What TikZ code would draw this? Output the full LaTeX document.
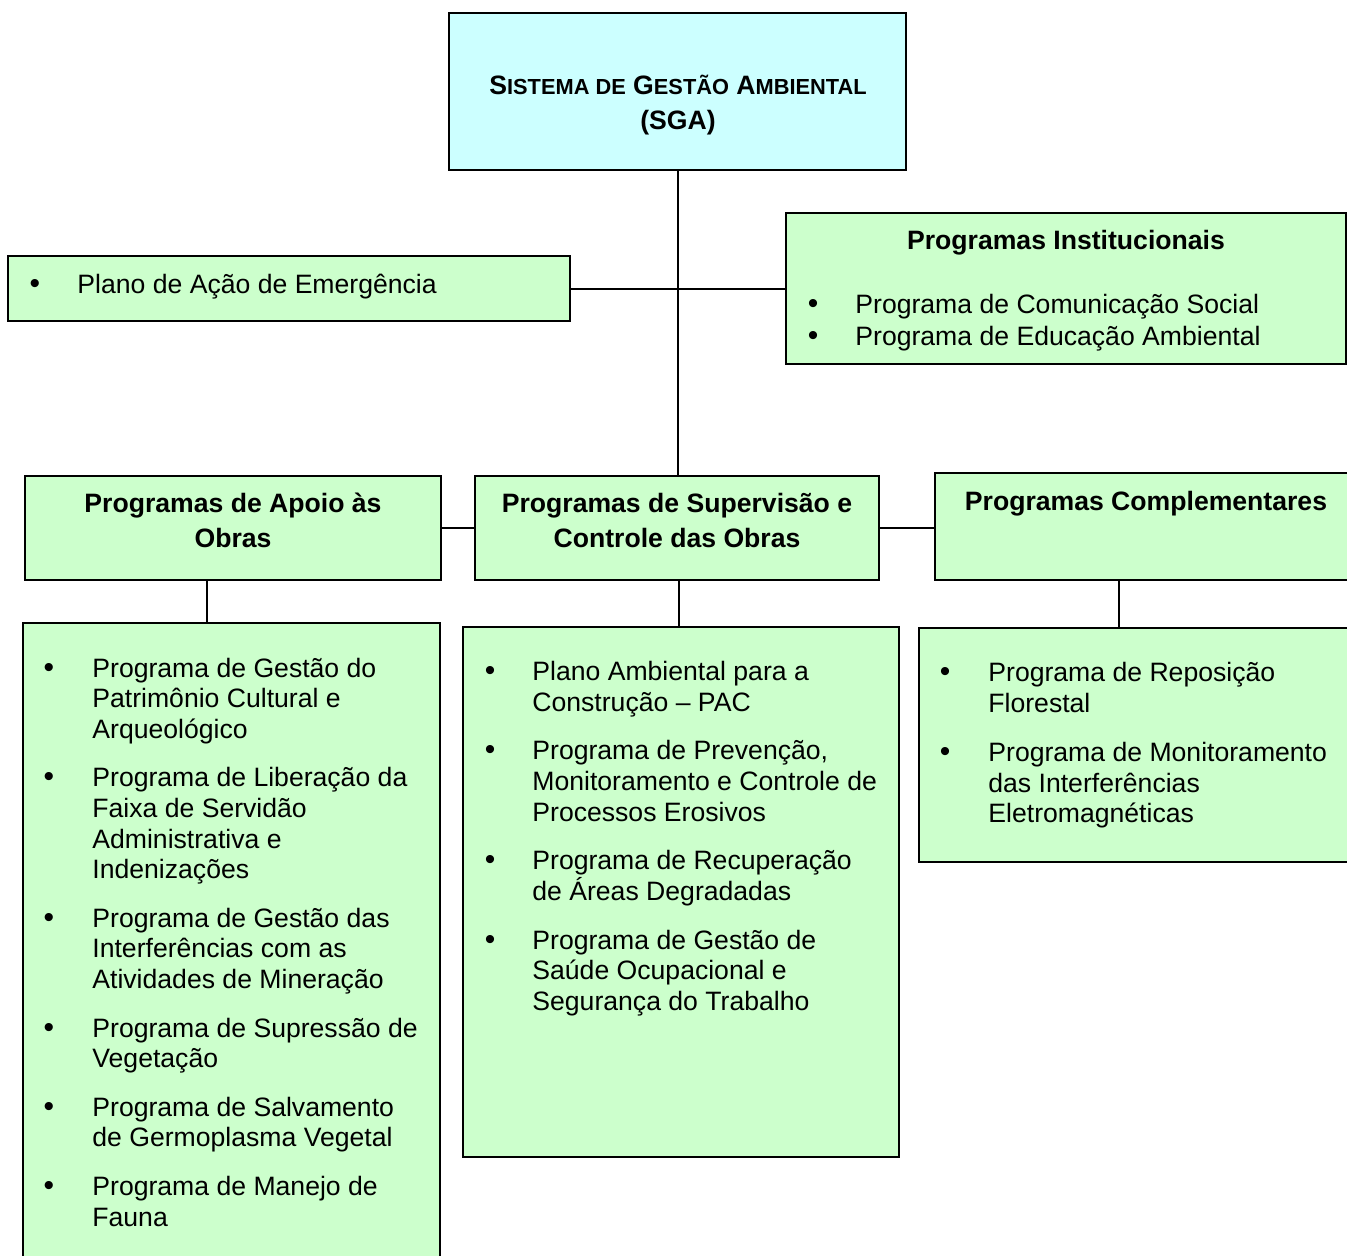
\documentclass[tikz,border=0pt]{standalone}
\usepackage{fontspec}
\setmainfont{Liberation Sans}
\usetikzlibrary{fit}
\definecolor{boxgreen}{HTML}{CCFFCC}
\definecolor{boxcyan}{HTML}{CCFFFF}
% reduced capitals for the title of the top box
\newcommand{\lowcaps}[1]{{\fontsize{10.9pt}{12pt}\selectfont #1}}

\begin{document}
\begin{tikzpicture}[x=0.5pt,y=-0.5pt,
  panel/.style={draw=black, line width=0.9pt, inner sep=0pt, fill=boxgreen},
  link/.style={draw=black, line width=1pt},
  txt/.style={anchor=base west, inner sep=0pt, font=\fontsize{13.3pt}{15.3pt}\selectfont},
  ttl/.style={anchor=base, inner sep=0pt, font=\fontsize{13.3pt}{15.3pt}\selectfont\bfseries},
  dot/.style={anchor=base, inner sep=0pt, font=\fontsize{15pt}{15.3pt}\selectfont}
]
\useasboundingbox (0,0) rectangle (1347,1255);
\begin{scope}
\clip (0,0) rectangle (1347,1255);

% boxes
\node[panel, fill=boxcyan, fit={(449,13) (906,170)}] (sga) {};
\node[panel, fit={(8,256) (570,321)}] (plano) {};
\node[panel, fit={(786,213) (1346,364)}] (inst) {};
\node[panel, fit={(25,476) (441,580)}] (apoio) {};
\node[panel, fit={(475,476) (879,580)}] (sup) {};
\node[panel, fit={(935,473) (1365,580)}] (comp) {};
\node[panel, fit={(23,623) (440,1280)}] (lapoio) {};
\node[panel, fit={(463,627) (899,1157)}] (lsup) {};
\node[panel, fit={(919,628) (1365,862)}] (lcomp) {};

% connectors
\draw[link] (sga.south) -- (sga.south |- sup.north);
\draw[link] (plano.east) -- (plano.east -| inst.west);
\draw[link] (apoio.east) -- (apoio.east -| sup.west);
\draw[link] (sup.east) -- (sup.east -| comp.west);
\draw[link] (207,0 |- apoio.south) -- (207,0 |- lapoio.north);
\draw[link] (679,0 |- sup.south) -- (679,0 |- lsup.north);
\draw[link] (1119,0 |- comp.south) -- (1119,0 |- lcomp.north);

% top box title
\node[ttl] (sga1) at (678,94) {S\lowcaps{ISTEMA DE} G\lowcaps{ESTÃO} A\lowcaps{MBIENTAL}};
\node[ttl] (sga2) at (678,129) {(SGA)};

% emergency plan
\node[dot] (pb) at (35,293) {•};
\node[txt] (pt) at (77,293) {Plano de Ação de Emergência};

% institutional programmes
\node[ttl] (it) at (1066,249) {Programas Institucionais};
\node[dot] (ib1) at (813,313) {•};
\node[txt] (i1) at (855,313) {Programa de Comunicação Social};
\node[dot] (ib2) at (813,345) {•};
\node[txt] (i2) at (855,345) {Programa de Educação Ambiental};

% group titles
\node[ttl] (at1) at (233,512) {Programas de Apoio às};
\node[ttl] (at2) at (233,547) {Obras};
\node[ttl] (st1) at (677,512) {Programas de Supervisão e};
\node[ttl] (st2) at (677,547) {Controle das Obras};
\node[ttl] (ct1) at (1146,510) {Programas Complementares};

% support programmes
\node[dot] (ab1) at (49,677) {•};
\node[txt] (a1a) at (92,677) {Programa de Gestão do};
\node[txt] (a1b) at (92,707) {Patrimônio Cultural e};
\node[txt] (a1c) at (92,738) {Arqueológico};
\node[dot] (ab2) at (49,786) {•};
\node[txt] (a2a) at (92,786) {Programa de Liberação da};
\node[txt] (a2b) at (92,817) {Faixa de Servidão};
\node[txt] (a2c) at (92,848) {Administrativa e};
\node[txt] (a2d) at (92,878) {Indenizações};
\node[dot] (ab3) at (49,927) {•};
\node[txt] (a3a) at (92,927) {Programa de Gestão das};
\node[txt] (a3b) at (92,957) {Interferências com as};
\node[txt] (a3c) at (92,988) {Atividades de Mineração};
\node[dot] (ab4) at (49,1037) {•};
\node[txt] (a4a) at (92,1037) {Programa de Supressão de};
\node[txt] (a4b) at (92,1067) {Vegetação};
\node[dot] (ab5) at (49,1116) {•};
\node[txt] (a5a) at (92,1116) {Programa de Salvamento};
\node[txt] (a5b) at (92,1146) {de Germoplasma Vegetal};
\node[dot] (ab6) at (49,1195) {•};
\node[txt] (a6a) at (92,1195) {Programa de Manejo de};
\node[txt] (a6b) at (92,1226) {Fauna};

% supervision programmes
\node[dot] (sb1) at (490,680) {•};
\node[txt] (s1a) at (532,680) {Plano Ambiental para a};
\node[txt] (s1b) at (532,711) {Construção – PAC};
\node[dot] (sb2) at (490,759) {•};
\node[txt] (s2a) at (532,759) {Programa de Prevenção,};
\node[txt] (s2b) at (532,790) {Monitoramento e Controle de};
\node[txt] (s2c) at (532,821) {Processos Erosivos};
\node[dot] (sb3) at (490,869) {•};
\node[txt] (s3a) at (532,869) {Programa de Recuperação};
\node[txt] (s3b) at (532,900) {de Áreas Degradadas};
\node[dot] (sb4) at (490,949) {•};
\node[txt] (s4a) at (532,949) {Programa de Gestão de};
\node[txt] (s4b) at (532,979) {Saúde Ocupacional e};
\node[txt] (s4c) at (532,1010) {Segurança do Trabalho};

% complementary programmes
\node[dot] (cb1) at (945,681) {•};
\node[txt] (c1a) at (988,681) {Programa de Reposição};
\node[txt] (c1b) at (988,712) {Florestal};
\node[dot] (cb2) at (945,761) {•};
\node[txt] (c2a) at (988,761) {Programa de Monitoramento};
\node[txt] (c2b) at (988,792) {das Interferências};
\node[txt] (c2c) at (988,822) {Eletromagnéticas};
\end{scope}
\end{tikzpicture}
\end{document}
